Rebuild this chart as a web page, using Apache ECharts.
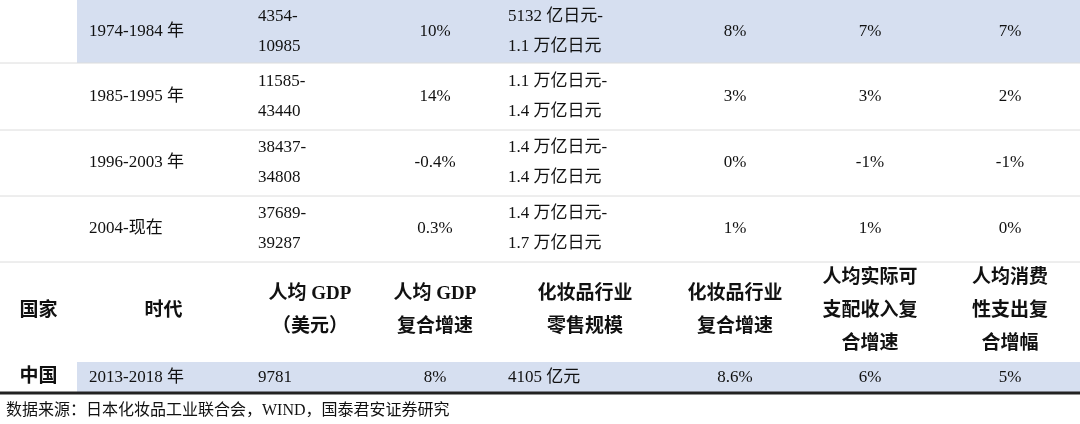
<!DOCTYPE html>
<html><head><meta charset="utf-8">
<script src="https://cdn.jsdelivr.net/npm/echarts@6/dist/echarts.min.js"></script>
<style>html,body{margin:0;background:#fff}#c{width:1080px;height:424px}</style>
</head><body><div id="c"></div>
<script>
const periods = ['1974-1984 年','1985-1995 年','1996-2003 年','2004-现在'];
const gdpPerCapita = ['4354-\n10985','11585-\n43440','38437-\n34808','37689-\n39287'];
const gdpGrowth = ['10%','14%','-0.4%','0.3%'];
const retailScale = ['5132 亿日元-\n1.1 万亿日元','1.1 万亿日元-\n1.4 万亿日元','1.4 万亿日元-\n1.4 万亿日元','1.4 万亿日元-\n1.7 万亿日元'];
const industryGrowth = ['8%','3%','0%','1%'];
const incomeGrowth = ['7%','3%','-1%','1%'];
const spendGrowth = ['7%','2%','-1%','0%'];
const headers = ['国家','时代','人均 GDP\n（美元）','人均 GDP\n复合增速','化妆品行业\n零售规模','化妆品行业\n复合增速','人均实际可\n支配收入复\n合增速','人均消费\n性支出复\n合增幅'];
const chinaRow = ['中国','2013-2018 年','9781','8%','4105 亿元','8.6%','6%','5%'];
const source = '数据来源：日本化妆品工业联合会，WIND，国泰君安证券研究';

// layout
const colEdges = [0,77,250,370,500,670,800,940,1080];
const align = ['center','left','left','center','left','center','center','center'];
const rowEdges = [0,63,130,196,262,360,393];
const lineYs = [63,130,196,262];
const data = [];
for (let i=0;i<4;i++){
  const r=['',periods[i],gdpPerCapita[i],gdpGrowth[i],retailScale[i],industryGrowth[i],incomeGrowth[i],spendGrowth[i]];
  r.forEach((t,c)=>data.push({value:[c,i],text:t,kind:i===0?'blue':'body'}));
}
headers.forEach((t,c)=>data.push({value:[c,4],text:t,kind:'head'}));
chinaRow.forEach((t,c)=>data.push({value:[c,5],text:t,kind:c===0?'cn0':'cn'}));
const FONT = '"Liberation Serif","Noto Sans CJK SC",serif';

const chart = echarts.init(document.getElementById('c'));
chart.setOption({
  animation:false,
  grid:{left:0,right:0,top:0,bottom:0},
  xAxis:{type:'value',min:0,max:1080,show:false},
  yAxis:{type:'value',min:0,max:424,inverse:true,show:false},
  series:[{
    type:'custom',
    z:2,
    data:data,
    renderItem:(params,api)=>{
      const d=data[params.dataIndex];
      const c=d.value[0], r=d.value[1];
      const p0=api.coord([colEdges[c],rowEdges[r]]), p1=api.coord([colEdges[c+1],rowEdges[r+1]]);
      const children=[];
      const blue = d.kind==='blue' || (d.kind==='cn');
      const top = r===5 ? api.coord([0,362])[1] : p0[1];
      if (blue && c>0){
        children.push({type:'rect',shape:{x:p0[0],y:top,width:p1[0]-p0[0],height:p1[1]-top},style:{fill:'#d6dff0'}});
      }
      const head = d.kind==='head' || (r===5 && c===0);
      const al = r===4 ? 'center' : align[c];
      const x = al==='center' ? (p0[0]+p1[0])/2 : p0[0]+(c===1?12:8);
      const y = (top+p1[1])/2;
      children.push({type:'text',style:{text:d.text,x:x,y:y,align:al,verticalAlign:'middle',
        font:(head?'bold 19px ':'17px ')+FONT, lineHeight: head?33:30, fill:'#111'}});
      return {type:'group',children};
    }
  },{
    type:'custom',
    z:5,
    data:lineYs.concat([393]),
    renderItem:(params,api)=>{
      const v=api.value(0);
      const p=api.coord([0,v]), q=api.coord([1080,v]);
      const dark = v===393;
      return {type:'line',shape:{x1:p[0],y1:p[1],x2:q[0],y2:q[1]},style:{stroke:dark?'#222':'#dcdcdc',lineWidth:dark?3:1}};
    }
  }],
  graphic:[{type:'text',left:6,top:403,style:{text:source,font:'16px '+FONT,fill:'#111'}}]
});
</script></body></html>
